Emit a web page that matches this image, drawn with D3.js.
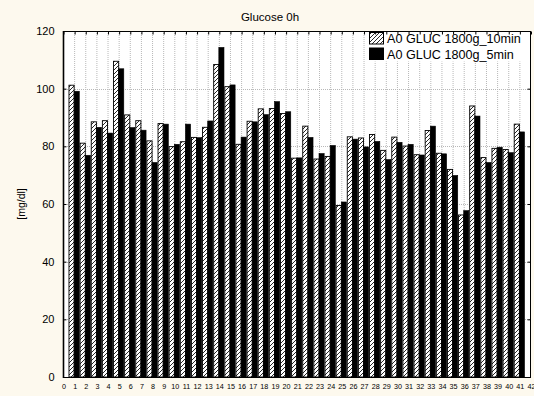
<!DOCTYPE html>
<html><head><meta charset="utf-8">
<script src="https://cdn.jsdelivr.net/npm/d3@7"></script>
<style>
html,body{margin:0;padding:0;background:#fdf9ee;}
svg{display:block;font-family:"Liberation Sans",Arial,sans-serif;}
</style></head>
<body><svg id="c" width="534" height="396"></svg>
<script>
const title = "Glucose 0h";
const yLabel = "[mg/dl]";
const seriesNames = ["A0 GLUC 1800g_10min", "A0 GLUC 1800g_5min"];
const categories = d3.range(1, 42);
const xTicks = d3.range(0, 43);
const yTicks = [0, 20, 40, 60, 80, 100, 120];
const values10 = [101.2, 81.1, 88.5, 88.9, 109.5, 90.9, 88.9, 81.9, 87.9, 79.9,
  81.6, 83.1, 86.6, 108.4, 100.7, 80.7, 88.7, 93.0, 93.1, 91.4,
  75.9, 87.0, 75.6, 76.5, 59.5, 83.3, 82.9, 84.1, 78.6, 83.2,
  80.1, 77.1, 85.5, 77.6, 72.0, 56.2, 94.0, 76.1, 79.3, 78.9, 87.7];
const values5 = [99.1, 76.9, 86.6, 84.6, 106.9, 86.5, 85.6, 74.4, 87.7, 80.7,
  87.7, 83.0, 88.8, 114.3, 101.3, 83.2, 88.5, 91.0, 95.5, 92.0,
  76.0, 83.1, 77.5, 80.3, 60.7, 82.5, 79.8, 81.7, 75.4, 81.4,
  80.7, 77.0, 87.0, 77.4, 69.9, 57.7, 90.5, 74.4, 79.7, 77.8, 85.0];

const svg = d3.select("#c");
const L = 63, R = 530.5, T = 31, B = 377;
const x = d3.scaleLinear().domain([0, 42]).range([L, R]);
const y = d3.scaleLinear().domain([0, 120]).range([B, T]);

const defs = svg.append("defs");
const pat = defs.append("pattern").attr("id", "hatch").attr("patternUnits", "userSpaceOnUse")
  .attr("width", 4).attr("height", 4);
pat.append("rect").attr("width", 4).attr("height", 4).attr("fill", "#fff");
pat.append("path").attr("d", "M-1,1 L1,-1 M0,4 L4,0 M3,5 L5,3")
  .attr("stroke", "#000").attr("stroke-width", 0.85);

// plot bg
svg.append("rect").attr("x", L).attr("y", T).attr("width", R - L + 0.5).attr("height", B - T).attr("fill", "#fff");

// grid
const g = svg.append("g");
g.selectAll("line.v").data(categories).enter().append("line")
  .attr("x1", d => x(d) + 0.5).attr("x2", d => x(d) + 0.5).attr("y1", T).attr("y2", B)
  .attr("stroke", "#b8b8b8").attr("stroke-width", 1).attr("stroke-dasharray", "1,1");
g.selectAll("line.h").data(yTicks.slice(1, -1)).enter().append("line")
  .attr("x1", L).attr("x2", R).attr("y1", d => Math.round(y(d)) + 0.5).attr("y2", d => Math.round(y(d)) + 0.5)
  .attr("stroke", "#b8b8b8").attr("stroke-width", 1).attr("stroke-dasharray", "1,1");

// bars
const bw = 5.15;
const bars = svg.append("g");
bars.selectAll("rect.a").data(categories).enter().append("rect")
  .attr("x", (d, i) => x(d) - bw).attr("width", bw)
  .attr("y", (d, i) => y(values10[i])).attr("height", (d, i) => y(0) - y(values10[i]))
  .attr("fill", "url(#hatch)").attr("stroke", "#000").attr("stroke-width", 0.9);
bars.selectAll("rect.b").data(categories).enter().append("rect")
  .attr("x", (d, i) => x(d)).attr("width", bw)
  .attr("y", (d, i) => y(values5[i])).attr("height", (d, i) => y(0) - y(values5[i]))
  .attr("fill", "#000").attr("stroke", "#000").attr("stroke-width", 0.6);

// legend
const lg = svg.append("g");
lg.append("rect").attr("x", 365).attr("y", T + 0.5).attr("width", R - 365).attr("height", 30).attr("fill", "#fff");
seriesNames.forEach((s, i) => {
  lg.append("rect").attr("x", 369.5).attr("y", 32.5 + i * 15.5).attr("width", 14).attr("height", 11.5)
    .attr("fill", i === 0 ? "url(#hatch)" : "#000").attr("stroke", "#000").attr("stroke-width", 1);
  lg.append("text").attr("x", 387).attr("y", 43 + i * 15.5).attr("font-size", 12.6).attr("fill", "#000").text(s);
});

// axes
const axL = d3.axisLeft(y).tickValues(yTicks).tickSize(-3).tickPadding(9);
const gL = svg.append("g").attr("transform", `translate(${L + 0.5},0)`).call(axL);
gL.select(".domain").remove();
gL.selectAll("text").attr("font-size", 11).attr("font-family", "Liberation Sans, Arial, sans-serif").attr("fill", "#000");
const axR = d3.axisRight(y).tickValues(yTicks).tickSize(-3).tickFormat("");
const gR = svg.append("g").attr("transform", `translate(${R},0)`).call(axR);
gR.select(".domain").remove();
const axT = d3.axisTop(x).tickValues(xTicks).tickSize(-3).tickFormat("");
const gT = svg.append("g").attr("transform", `translate(0.5,${T + 0.5})`).call(axT);
gT.select(".domain").remove();
const axB = d3.axisBottom(x).tickValues(xTicks).tickSize(0).tickPadding(7);
const gB = svg.append("g").attr("transform", `translate(0.5,${B})`).call(axB);
gB.select(".domain").remove();
gB.selectAll("text").attr("font-size", 7.2).attr("font-family", "Liberation Sans, Arial, sans-serif").attr("fill", "#000");

// frame
svg.append("rect").attr("x", L + 0.5).attr("y", T + 0.5).attr("width", R - L - 0.5).attr("height", B - T)
  .attr("fill", "none").attr("stroke", "#000").attr("stroke-width", 1);
svg.append("line").attr("x1", L + 0.5).attr("x2", L + 0.5).attr("y1", T).attr("y2", B + 1).attr("stroke", "#000").attr("stroke-width", 1.6);

// titles
svg.append("text").attr("x", 270).attr("y", 20.5).attr("text-anchor", "middle").attr("font-size", 11.5).text(title);
svg.append("text").attr("transform", `translate(25,${(T + B) / 2}) rotate(-90)`).attr("text-anchor", "middle")
  .attr("font-size", 10.5).text(yLabel);
</script></body></html>
